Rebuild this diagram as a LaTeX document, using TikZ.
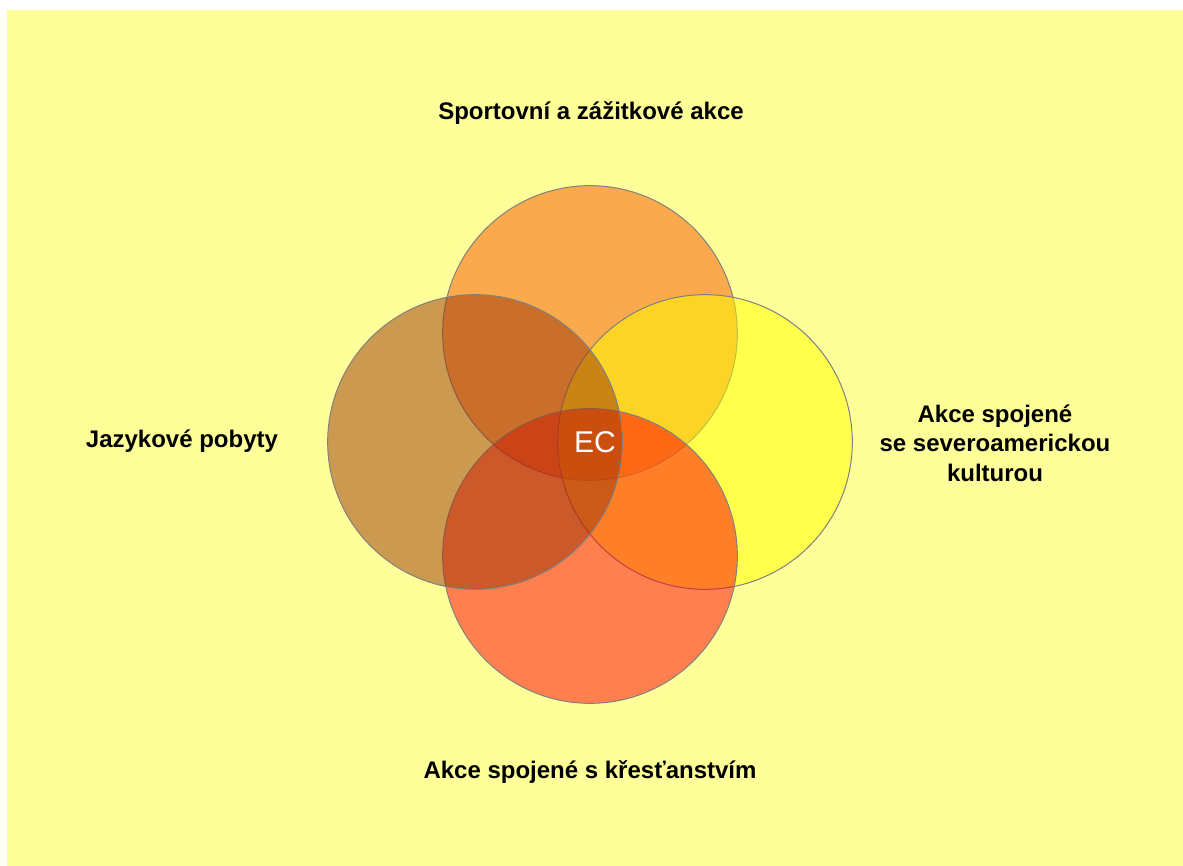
\documentclass[tikz,border=0pt]{standalone}
\usepackage{fontspec}
\setmainfont{Liberation Sans}
\definecolor{pagebg}{RGB}{255, 255, 153}
\definecolor{sportorange}{RGB}{247, 87, 0}
\definecolor{langbrown}{RGB}{153, 53, 7}
\definecolor{amyellow}{RGB}{255, 255, 0}
\definecolor{chrred}{RGB}{255, 0, 7}
\definecolor{ringgray}{RGB}{128, 128, 128}
\usetikzlibrary{shapes, positioning}

\begin{document}
\begin{tikzpicture}[x=0.75pt, y=-0.75pt,
  ring/.style={circle, draw=ringgray, line width=0.75pt, fill opacity=0.5, minimum size=221pt, inner sep=0pt},
  label/.style={font=\fontsize{18}{22}\selectfont\bfseries, align=center, text=black}]
  \useasboundingbox (0,0) rectangle (1183,866);
  \fill[white] (0,0) rectangle (1183,866);
  \fill[pagebg] (7,10) rectangle (1183,866);

  % the four circles
  \node[ring, fill=sportorange] (sport) at (590, 333) {};
  \node[ring, fill=amyellow] (amer) at (705, 442) {};
  \node[ring, fill=chrred] (chris) at (590, 556) {};
  \node[ring, fill=langbrown] (lang) at (475, 442) {};

  % centre
  \node[font=\fontsize{22.5}{26}\selectfont, text=white] (ec) at (595, 442) {EC};

  % labels
  \node[label] (sportlbl) at (591, 113) {Sportovní a zážitkové akce};
  \node[label] (langlbl) at (182, 441) {Jazykové pobyty};
  \node[label] (amerlbl) at (995, 443) {Akce spojené\\se severoamerickou\\kulturou};
  \node[label] (chrislbl) at (590, 772) {Akce spojené s křesťanstvím};
\end{tikzpicture}
\end{document}
